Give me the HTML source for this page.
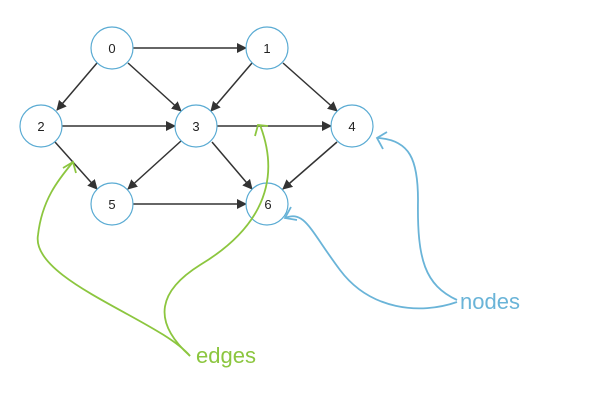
<!DOCTYPE html>
<html><head><style>html,body{margin:0;padding:0;background:#fff;}</style></head>
<body>
<svg width="609" height="404" viewBox="0 0 609 404" xmlns="http://www.w3.org/2000/svg">
<defs>
<marker id="a" markerWidth="10" markerHeight="10" refX="9" refY="5" orient="auto" markerUnits="userSpaceOnUse">
<path d="M0,0 L10,5 L0,10 z" fill="#333"/></marker>
</defs>
<g stroke="#333" stroke-width="1.5" fill="none" marker-end="url(#a)">
<line x1="133" y1="48" x2="246" y2="48"/>
<line x1="97" y1="63" x2="57" y2="110"/>
<line x1="128" y1="63" x2="181" y2="111"/>
<line x1="252" y1="63" x2="211" y2="111"/>
<line x1="283" y1="63" x2="337" y2="111"/>
<line x1="62" y1="126" x2="175" y2="126"/>
<line x1="217" y1="126" x2="331" y2="126"/>
<line x1="55" y1="142" x2="97" y2="189"/>
<line x1="181" y1="141" x2="128" y2="189"/>
<line x1="212" y1="142" x2="252" y2="189"/>
<line x1="337" y1="142" x2="283" y2="189"/>
<line x1="133" y1="204" x2="246" y2="204"/>
</g>
<g stroke="#5aabd3" stroke-width="1.2" fill="#fff">
<circle cx="112" cy="48" r="21"/><circle cx="267" cy="48" r="21"/>
<circle cx="41" cy="126" r="21"/><circle cx="196" cy="126" r="21"/><circle cx="352" cy="126" r="21"/>
<circle cx="112" cy="204" r="21"/><circle cx="267" cy="204" r="21"/>
</g>
<g font-family="Liberation Sans, sans-serif" font-size="13" fill="#222" text-anchor="middle">
<text x="112" y="53">0</text><text x="267" y="53">1</text><text x="41" y="131">2</text>
<text x="196" y="131">3</text><text x="352" y="131">4</text><text x="112" y="209">5</text><text x="268" y="209">6</text>
</g>
<g stroke="#8cc63f" stroke-width="1.8" fill="none">
<path d="M190,356 C160,320 30,280 38,235 C42,200 58,180 73,162"/>
<path d="M63,168 L73,162 L76,173"/>
<path d="M190,356 C150,320 160,290 200,265 C250,235 285,190 260,125"/>
<path d="M255,136 L258,125 L268,126"/>
</g>
<g stroke="#6ab4d8" stroke-width="1.8" fill="none">
<path d="M457,300 C425,285 417,260 418,200 C418,160 410,140 378,138"/>
<path d="M387,132 L377,138 L383,149"/>
<path d="M457,302 C420,315 370,310 340,270 C310,230 305,210 285,218"/>
<path d="M291,207 L285,218 L297,220"/>
</g>
<text x="196" y="363" font-family="Liberation Sans, sans-serif" font-size="22" fill="#8cc63f">edges</text>
<text x="460" y="309" font-family="Liberation Sans, sans-serif" font-size="22" fill="#6ab4d8">nodes</text>
</svg>
</body></html>
